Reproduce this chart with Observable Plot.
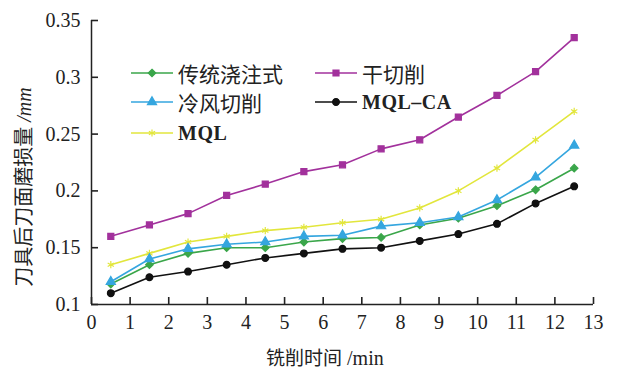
<!DOCTYPE html>
<html>
<head>
<meta charset="utf-8">
<script src="https://cdn.jsdelivr.net/npm/d3@7"></script>
<script src="https://cdn.jsdelivr.net/npm/@observablehq/plot@0.6"></script>
<style>
  body { margin: 0; background: #fff; }
  #chart { position: relative; width: 639px; height: 369px; overflow: hidden; }
  #chart svg { display: block; }
  .title { position: absolute; color: #222; white-space: nowrap; }
  .cjk { font-family: "Noto Sans CJK SC", sans-serif; }
  .latin { font-family: "Liberation Serif", serif; }
  #legend { position: absolute; left: 0; top: 0; width: 639px; height: 369px; }
  .item { position: absolute; display: flex; align-items: center; height: 28px; white-space: nowrap; }
  .item span { margin-left: 5px; font-size: 21px; color: #222; }
  .item span.latin { font-weight: bold; font-size: 20px; letter-spacing: 0.5px; }
</style>
</head>
<body>
<div id="chart"></div>
<script>
// Milling time (min) at which flank wear was measured
const times = [0.5, 1.5, 2.5, 3.5, 4.5, 5.5, 6.5, 7.5, 8.5, 9.5, 10.5, 11.5, 12.5];

// Flank wear (mm) for each cooling/lubrication condition
const flood   = [0.118, 0.135, 0.145, 0.150, 0.150, 0.155, 0.158, 0.159, 0.170, 0.176, 0.187, 0.201, 0.220];
const dry     = [0.160, 0.170, 0.180, 0.196, 0.206, 0.217, 0.223, 0.237, 0.245, 0.265, 0.284, 0.305, 0.335];
const coldAir = [0.120, 0.140, 0.149, 0.153, 0.155, 0.160, 0.161, 0.169, 0.172, 0.177, 0.192, 0.212, 0.240];
const mqlCa   = [0.110, 0.124, 0.129, 0.135, 0.141, 0.145, 0.149, 0.150, 0.156, 0.162, 0.171, 0.189, 0.204];
const mql     = [0.135, 0.145, 0.155, 0.160, 0.165, 0.168, 0.172, 0.175, 0.185, 0.200, 0.220, 0.245, 0.270];

const seriesNames   = ["传统浇注式", "干切削", "冷风切削", "MQL-CA", "MQL"];
const seriesValues  = [flood, dry, coldAir, mqlCa, mql];
const seriesColors  = ["#3aa64a", "#a2319c", "#35a6df", "#111111", "#e2e63c"];
const seriesSymbols = ["diamond2", "square", "triangle", "circle", "asterisk"];

const xTicks = [0, 1, 2, 3, 4, 5, 6, 7, 8, 9, 10, 11, 12, 13];
const yTicks = [0.1, 0.15, 0.2, 0.25, 0.3, 0.35];

const rows = seriesNames.flatMap((name, i) =>
  times.map((t, j) => ({series: name, t, wear: seriesValues[i][j]}))
);
// draw the top-most curves last so the lower ones sit beneath
const drawOrder = ["MQL", "传统浇注式", "冷风切削", "MQL-CA", "干切削"];
rows.sort((a, b) => drawOrder.indexOf(a.series) - drawOrder.indexOf(b.series));

const serif = "'Liberation Serif', 'Times New Roman', serif";

const width = 639, height = 369;
const margin = {top: 20, right: 46, bottom: 65, left: 91};
const frameW = width - margin.left - margin.right;
const frameH = height - margin.top - margin.bottom;
const tickLen = 7;

const chart = Plot.plot({
  width,
  height,
  marginLeft: margin.left,
  marginRight: margin.right,
  marginTop: margin.top,
  marginBottom: margin.bottom,
  style: {fontFamily: serif, fontSize: "20px", color: "#222", background: "transparent"},
  x: {domain: [0, 13]},
  y: {domain: [0.1, 0.35]},
  color: {domain: seriesNames, range: seriesColors},
  symbol: {domain: seriesNames, range: seriesSymbols},
  marks: [
    // inward-pointing tick marks: frame-spanning rules inset down to a short stub
    Plot.ruleX(xTicks, {x: d => d, insetTop: frameH - tickLen, stroke: "#222", strokeWidth: 1.6}),
    Plot.ruleY(yTicks, {y: d => d, insetRight: frameW - tickLen, stroke: "#222", strokeWidth: 1.6}),
    // tick labels
    Plot.axisX(xTicks, {tickSize: 0, tickPadding: 10, label: null, fontFamily: serif, fontSize: 20}),
    Plot.axisY(yTicks, {tickSize: 0, tickPadding: 11, label: null, fontFamily: serif, fontSize: 20,
      tickFormat: d => String(+d.toFixed(2))}),
    Plot.ruleX([0], {stroke: "#222", strokeWidth: 1.5}),
    Plot.ruleY([0.1], {stroke: "#222", strokeWidth: 1.5}),
    Plot.line(rows, {x: "t", y: "wear", z: "series", stroke: "series", strokeWidth: 1.6}),
    Plot.dot(rows, {x: "t", y: "wear", symbol: "series", fill: "series", stroke: "series", r: 3.4, strokeWidth: 1.2})
  ]
});

const root = document.getElementById("chart");
root.appendChild(chart);

// axis titles
const xTitle = document.createElement("div");
xTitle.className = "title";
xTitle.innerHTML = '<span class="cjk" style="font-size:19px">铣削时间</span><span class="latin" style="font-size:20px"> /min</span>';
xTitle.style.left = "266px";
xTitle.style.top = "343px";
root.appendChild(xTitle);

const yTitle = document.createElement("div");
yTitle.className = "title";
yTitle.innerHTML = '<span class="cjk" style="font-size:20px">刀具后刀面磨损量</span><span class="latin" style="font-size:20px;font-style:italic"> /mm</span>';
yTitle.style.left = "22px";
yTitle.style.top = "187px";
yTitle.style.transform = "translate(-50%, -50%) rotate(-90deg)";
root.appendChild(yTitle);

// legend inside the plot area
const legendLayout = [
  {name: "传统浇注式", left: 131, top: 73},
  {name: "冷风切削",   left: 131, top: 102},
  {name: "MQL",        left: 131, top: 133},
  {name: "干切削",     left: 315, top: 73},
  {name: "MQL-CA",     left: 315, top: 102}
];
const legend = document.createElement("div");
legend.id = "legend";
root.appendChild(legend);
for (const {name, left, top} of legendLayout) {
  const i = seriesNames.indexOf(name);
  const item = document.createElement("div");
  item.className = "item";
  item.style.left = left + "px";
  item.style.top = (top - 14) + "px";
  const sym = {diamond2: d3.symbolDiamond2, square: d3.symbolSquare, triangle: d3.symbolTriangle,
               circle: d3.symbolCircle, asterisk: d3.symbolAsterisk}[seriesSymbols[i]];
  const path = d3.symbol(sym, 36)();
  item.innerHTML =
    `<svg width="42" height="28"><line x1="0" x2="42" y1="14" y2="14" stroke="${seriesColors[i]}" stroke-width="1.6"/>` +
    `<path d="${path}" transform="translate(21,14)" fill="${seriesColors[i]}" stroke="${seriesColors[i]}" stroke-width="1.2"/></svg>` +
    `<span class="${/[A-Z]/.test(name) ? "latin" : "cjk"}">${name.replace("-", "–")}</span>`;
  legend.appendChild(item);
}
</script>
</body>
</html>
